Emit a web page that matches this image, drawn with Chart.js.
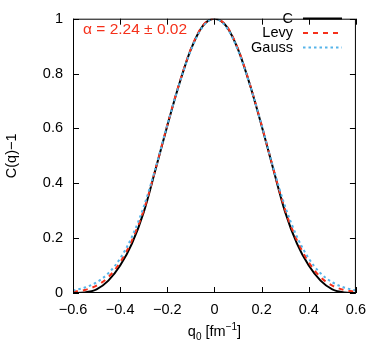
<!DOCTYPE html>
<html>
<head>
<meta charset="utf-8">
<script src="https://cdn.jsdelivr.net/npm/chart.js@4.4.1/dist/chart.umd.min.js"></script>
<style>
  html,body{margin:0;padding:0;background:#fff;}
  #wrap{width:374px;height:343px;}
</style>
</head>
<body>
<div id="wrap"><canvas id="chartC"></canvas></div>
<script>
// ===== data =====
const qValues = [-0.6,-0.55,-0.5,-0.45,-0.4,-0.35,-0.3,-0.25,-0.2,-0.15,-0.1,-0.05,0,
                 0.05,0.1,0.15,0.2,0.25,0.3,0.35,0.4,0.45,0.5,0.55,0.6];
const cValues = [0,0.002,0.013,0.045,0.100,0.180,0.295,0.450,0.610,0.760,0.888,0.973,1,
                 0.973,0.888,0.760,0.610,0.450,0.295,0.180,0.100,0.045,0.013,0.002,0];
const levyValues = [0.004,0.011,0.027,0.058,0.112,0.192,0.302,0.452,0.612,0.762,0.890,0.975,1,
                    0.975,0.890,0.762,0.612,0.452,0.302,0.192,0.112,0.058,0.027,0.011,0.004];
const gaussValues = [0.009,0.020,0.039,0.072,0.126,0.205,0.315,0.455,0.613,0.759,0.885,0.970,1,
                     0.970,0.885,0.759,0.613,0.455,0.315,0.205,0.126,0.072,0.039,0.020,0.009];
const xTicks = [-0.6,-0.4,-0.2,0,0.2,0.4,0.6];
const yTicks = [0,0.2,0.4,0.6,0.8,1];
const alphaText = "α = 2.24 ± 0.02";

const FONT = "'Liberation Sans', Arial, sans-serif";
const RED = "#f5301a", BLUE = "#56b4e9";
const pts = (vals)=>qValues.map((q,i)=>({x:q,y:vals[i]}));
const fmt = (v)=>String(Math.round(v*10)/10).replace("-","\u2212");

// frame, inward ticks, legend, labels
const decor = {
  id:"decor",
  afterDraw(chart){
    const {ctx, chartArea:a, scales:{x,y}} = chart;
    ctx.save();
    ctx.strokeStyle="#000"; ctx.lineWidth=1;
    ctx.strokeRect(a.left+0.5,a.top+0.5,a.right-a.left-1,a.bottom-a.top-1);
    ctx.beginPath();
    xTicks.forEach(v=>{
      const px=Math.round(x.getPixelForValue(v))+0.5;
      ctx.moveTo(px,a.bottom); ctx.lineTo(px,a.bottom-6);
      ctx.moveTo(px,a.top); ctx.lineTo(px,a.top+6);
    });
    yTicks.forEach(v=>{
      const py=Math.round(y.getPixelForValue(v))+0.5;
      ctx.moveTo(a.left,py); ctx.lineTo(a.left+6,py);
      ctx.moveTo(a.right,py); ctx.lineTo(a.right-6,py);
    });
    ctx.stroke();

    // legend
    ctx.font="14.5px "+FONT; ctx.textAlign="right"; ctx.textBaseline="middle"; ctx.fillStyle="#000";
    chart.data.datasets.forEach((ds,i)=>{
      const ly=18.5+i*14.5;
      ctx.fillText(ds.label,293,ly);
      ctx.beginPath();
      ctx.strokeStyle=ds.borderColor; ctx.lineWidth=ds.borderWidth;
      ctx.setLineDash(ds.borderDash||[]);
      ctx.moveTo(303,ly); ctx.lineTo(342,ly); ctx.stroke();
    });
    ctx.setLineDash([]);

    // alpha annotation
    ctx.textAlign="left"; ctx.fillStyle=RED; ctx.font="15.5px "+FONT;
    ctx.fillText(alphaText,83,30);

    // x title: q0 [fm^-1]
    ctx.fillStyle="#000"; ctx.textBaseline="alphabetic";
    const parts=[["q",14.5,0],["0",10,4],[" [fm",14.5,0],["\u22121",10,-6],["]",14.5,0]];
    let w=0;
    parts.forEach(p=>{ctx.font=p[1]+"px "+FONT; w+=ctx.measureText(p[0]).width;});
    let cx=(a.left+a.right)/2-w/2;
    parts.forEach(p=>{ctx.font=p[1]+"px "+FONT; ctx.fillText(p[0],cx,336+p[2]); cx+=ctx.measureText(p[0]).width;});

    // y title
    ctx.translate(12,(a.top+a.bottom)/2); ctx.rotate(-Math.PI/2);
    ctx.font="14.5px "+FONT; ctx.textAlign="center"; ctx.textBaseline="middle";
    ctx.fillText("C(q)\u22121",0,0);
    ctx.restore();
  }
};

new Chart(document.getElementById("chartC"),{
  type:"line",
  data:{datasets:[
    {label:"C", data:pts(cValues), borderColor:"#000", borderWidth:2, order:3},
    {label:"Levy", data:pts(levyValues), borderColor:RED, borderWidth:2, borderDash:[5,5], order:2},
    {label:"Gauss", data:pts(gaussValues), borderColor:BLUE, borderWidth:2, borderDash:[2.5,3], order:1}
  ]},
  options:{
    responsive:true, maintainAspectRatio:false, animation:false,
    layout:{padding:{left:0,right:15,top:7,bottom:0}},
    elements:{point:{radius:0}, line:{cubicInterpolationMode:"monotone", fill:false}},
    plugins:{legend:{display:false}, tooltip:{enabled:false}},
    scales:{
      x:{type:"linear", min:-0.6, max:0.6, border:{display:false},
         grid:{display:false, drawTicks:false},
         afterBuildTicks:(s)=>{s.ticks=xTicks.map(v=>({value:v}));},
         afterFit:(s)=>{s.height=50;},
         ticks:{padding:8, color:"#000", font:{family:FONT,size:14.5}, maxRotation:0, callback:fmt}},
      y:{type:"linear", min:0, max:1, border:{display:false},
         grid:{display:false, drawTicks:false},
         afterBuildTicks:(s)=>{s.ticks=yTicks.map(v=>({value:v}));},
         afterFit:(s)=>{s.width=73;},
         ticks:{padding:10, color:"#000", font:{family:FONT,size:14.5}, callback:fmt}}
    }
  },
  plugins:[decor]
});
</script>
</body>
</html>
